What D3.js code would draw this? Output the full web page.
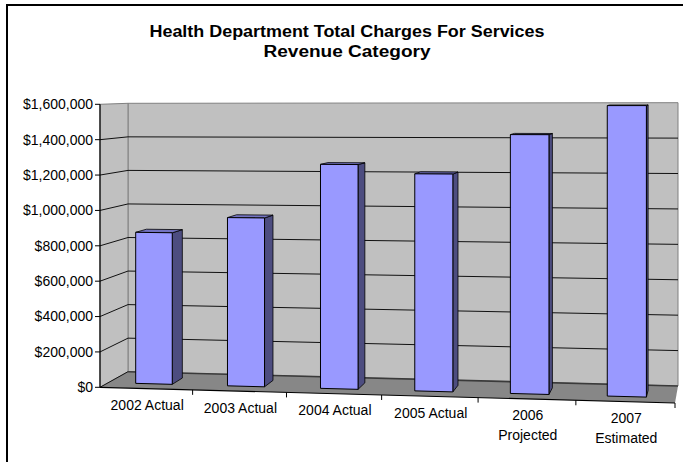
<!DOCTYPE html>
<html>
<head>
<meta charset="utf-8">
<script src="https://cdn.jsdelivr.net/npm/d3@7"></script>
<style>
  body { margin: 0; background: #fff; }
  svg { display: block; }
  text { font-family: "Liberation Sans", Arial, sans-serif; fill: #000; }
</style>
</head>
<body>
<svg id="chart" width="683" height="462"></svg>
<script>
// ---- data ----
const categories = ["2002 Actual", "2003 Actual", "2004 Actual", "2005 Actual", "2006 Projected", "2007 Estimated"];
const categoryLabelLines = [["2002 Actual"], ["2003 Actual"], ["2004 Actual"], ["2005 Actual"], ["2006", "Projected"], ["2007", "Estimated"]];
const charges = [865000, 955000, 1260000, 1210000, 1430000, 1590000];
const valueTicks = [0, 200000, 400000, 600000, 800000, 1000000, 1200000, 1400000, 1600000];
const titleLines = ["Health Department Total Charges For Services", "Revenue Category"];

// ---- scales (normalised 3-D box: t across, v up, z into the page) ----
const x = d3.scaleBand().domain(categories).range([0, 1]).paddingInner(0.6).paddingOuter(0.3);
const y = d3.scaleLinear().domain([0, 1600000]).range([0, 1]);
const fmt = d3.format("$,");

// screen positions of the eight corners of the plot box [z][v][t]
const corner = [
  [[[100, 387.3], [675, 403.0]], [[100, 104.3], [675, 104.2]]],
  [[[128, 371.7], [678, 386.0]], [[128, 103.3], [678, 102.7]]]
];
// perspective foreshortening across the category direction
const persp = t => 0.96 * t / (1 - 0.04 * t);
const lerp = (a, b, k) => [a[0] + (b[0] - a[0]) * k, a[1] + (b[1] - a[1]) * k];
function project(t, v, z) {
  const u = persp(t);
  const p = [0, 1].map(zi => {
    const bot = lerp(corner[zi][0][0], corner[zi][0][1], u);
    const top = lerp(corner[zi][1][0], corner[zi][1][1], u);
    return lerp(bot, top, v);
  });
  return lerp(p[0], p[1], z);
}
const poly = pts => "M" + pts.map(p => project(...p).join(",")).join("L") + "Z";
const path = pts => "M" + pts.map(p => project(...p).join(",")).join("L");

const svg = d3.select("#chart");

// chart frame
svg.append("rect").attr("x", 7).attr("y", 5).attr("width", 700).attr("height", 480)
  .attr("fill", "none").attr("stroke", "#000").attr("stroke-width", 2);

// title (wide bold lettering)
const titleWidths = [395, 167];
svg.append("g").selectAll("text").data(titleLines).join("text")
  .attr("x", 347).attr("y", (d, i) => 37 + i * 19.5)
  .attr("text-anchor", "middle").attr("font-weight", "bold").attr("font-size", 16)
  .attr("textLength", (d, i) => titleWidths[i]).attr("lengthAdjust", "spacingAndGlyphs")
  .text(d => d);

// walls and floor
const g = svg.append("g");
g.append("path").attr("d", poly([[0, 0, 1], [1, 0, 1], [1, 1, 1], [0, 1, 1]]))
  .attr("fill", "#c0c0c0").attr("stroke", "#808080").attr("stroke-width", 1);
g.append("path").attr("d", poly([[0, 0, 0], [0, 0, 1], [0, 1, 1], [0, 1, 0]]))
  .attr("fill", "#c0c0c0").attr("stroke", "#808080").attr("stroke-width", 1);
g.append("path").attr("d", poly([[0, 0, 0], [1, 0, 0], [1, 0, 1], [0, 0, 1]]))
  .attr("fill", "#878787").attr("stroke", "none");
g.append("path").attr("d", path([[0, 0, 1], [1, 0, 1]]))
  .attr("fill", "none").attr("stroke", "#3a3a3a").attr("stroke-width", 1.6);

// gridlines on side and back wall
g.append("g").selectAll("path").data(valueTicks.filter(d => d > 0 && d < 1600000)).join("path")
  .attr("d", d => path([[0, y(d), 0], [0, y(d), 1], [1, y(d), 1]]))
  .attr("fill", "none").attr("stroke", "#111").attr("stroke-width", 1);
g.append("path").attr("d", path([[0, 0, 0], [0, 0, 1]]))
  .attr("fill", "none").attr("stroke", "#111").attr("stroke-width", 1);

// value axis
const ax = svg.append("g");
ax.append("path").attr("d", path([[0, 0, 0], [0, 1, 0]])).attr("stroke", "#000").attr("stroke-width", 1.2).attr("fill", "none");
const vt = ax.selectAll("g.vt").data(valueTicks).join("g").attr("class", "vt");
vt.append("line")
  .attr("x1", d => project(0, y(d), 0)[0] - 5).attr("x2", d => project(0, y(d), 0)[0])
  .attr("y1", d => project(0, y(d), 0)[1]).attr("y2", d => project(0, y(d), 0)[1])
  .attr("stroke", "#000").attr("stroke-width", 1);
vt.append("text")
  .attr("x", d => project(0, y(d), 0)[0] - 7).attr("y", d => project(0, y(d), 0)[1])
  .attr("dy", "0.35em").attr("text-anchor", "end").attr("font-size", 14)
  .text(d => fmt(d));

// category axis
ax.append("path").attr("d", path([[0, 0, 0], [1, 0, 0]])).attr("stroke", "#000").attr("stroke-width", 1.2).attr("fill", "none");
const step = x.step();
ax.selectAll("line.ct").data(d3.range(1, categories.length + 1)).join("line").attr("class", "ct")
  .attr("x1", i => project(i * step, 0, 0)[0]).attr("x2", i => project(i * step, 0, 0)[0])
  .attr("y1", i => project(i * step, 0, 0)[1]).attr("y2", i => project(i * step, 0, 0)[1] + 5)
  .attr("stroke", "#000").attr("stroke-width", 1);
const cl = ax.selectAll("text.cl").data(categories).join("text").attr("class", "cl")
  .attr("text-anchor", "middle").attr("font-size", 14)
  .attr("transform", d => {
    const p = project(x(d) + x.bandwidth() / 2, 0, 0);
    return `translate(${p[0] + 1},${p[1] + 21.5})`;
  });
cl.selectAll("tspan").data((d, i) => categoryLabelLines[i]).join("tspan")
  .attr("x", 0).attr("y", (d, i) => i * 19.5).text(d => d);

// columns
const z0 = 0.3, z1 = 0.7;
const bars = svg.append("g").selectAll("g").data(categories).join("g");
bars.each(function (c, i) {
  const t0 = x(c), t1 = t0 + x.bandwidth(), v = y(charges[i]);
  const b = d3.select(this);
  b.append("path").attr("d", poly([[t1, 0, z0], [t1, 0, z1], [t1, v, z1], [t1, v, z0]]))
    .attr("fill", "#4d4d80").attr("stroke", "#000").attr("stroke-width", 0.8).attr("stroke-linejoin", "round");
  b.append("path").attr("d", poly([[t0, v, z0], [t1, v, z0], [t1, v, z1], [t0, v, z1]]))
    .attr("fill", "#7373c0").attr("stroke", "#000").attr("stroke-width", 0.8).attr("stroke-linejoin", "round");
  b.append("path").attr("d", poly([[t0, 0, z0], [t1, 0, z0], [t1, v, z0], [t0, v, z0]]))
    .attr("fill", "#9999ff").attr("stroke", "#000").attr("stroke-width", 1).attr("stroke-linejoin", "round");
});
</script>
</body>
</html>
